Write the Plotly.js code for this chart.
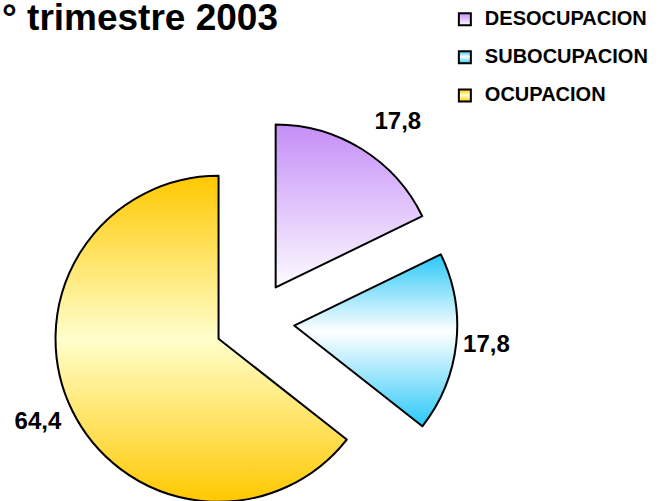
<!DOCTYPE html>
<html>
<head>
<meta charset="utf-8">
<script src="https://cdn.plot.ly/plotly-3.0.1.min.js"></script>
<style>
  html, body { margin: 0; padding: 0; overflow: hidden; background: #fff; }
  #chart { width: 662px; height: 540px; }
</style>
</head>
<body>
<div id="chart"></div>
<script>
// ---- data ----
var titleText = '° trimestre 2003';
var labels = ['DESOCUPACION', 'SUBOCUPACION', 'OCUPACION'];
var values = [17.8, 17.8, 64.4];
var baseColors = ['#dcc0fb', '#b5e9fd', '#ffe47a'];
// vertical gradient stops per slice (offset, colour)
var gradDeso = [[0, '#c58ef8'], [1, '#fdfbff']];
var gradSubo = [[0, '#2ac8f8'], [0.45, '#ffffff'], [1, '#2ac8f8']];
var gradOcup = [[0, '#ffc800'], [0.5, '#ffffcc'], [1, '#ffc800']];
var gradients = [gradDeso, gradSubo, gradOcup];

var FONT = 'Liberation Sans, Arial, Helvetica, sans-serif';

var legendLabels = labels.map(function (l) {
  return '<span style="font-size:20px">' + l + '</span><br>&nbsp;';
});

// label text: value shown at 24px; the blank helper line nudges placement
var valueSpan = '<span style="font-size:24px">%{value}</span>';
var textTemplates = [valueSpan + '<br>&nbsp;', valueSpan, '&nbsp;<br>' + valueSpan];
var textSizes = [18, 24, 16];

var trace = {
  type: 'pie',
  labels: legendLabels,
  values: values,
  sort: false,
  direction: 'clockwise',
  rotation: 0,
  pull: [0.245, 0.245, 0.245],
  marker: { colors: baseColors, line: { color: '#000000', width: 2 } },
  texttemplate: textTemplates,
  textposition: 'outside',
  textfont: { family: FONT, size: textSizes, color: '#000000', weight: 'bold' },
  hoverinfo: 'none',
  domain: { x: [0.0778, 0.691], y: [0.0289, 0.781] }
};

var layout = {
  width: 662,
  height: 540,
  margin: { l: 0, r: 0, t: 0, b: 0 },
  paper_bgcolor: '#ffffff',
  separators: ',.',
  title: {
    text: titleText,
    font: { family: FONT, size: 37, color: '#000000', weight: 'bold' },
    xref: 'container', x: 0.003, xanchor: 'left',
    yref: 'container', y: 1 - 17 / 540, yanchor: 'middle'
  },
  showlegend: true,
  legend: {
    x: 0.672, xanchor: 'left',
    y: 0.9926, yanchor: 'top',
    valign: 'top',
    font: { family: FONT, size: 13.5, color: '#000000', weight: 'bold' },
    bgcolor: 'rgba(0,0,0,0)'
  }
};

function applyGradients(gd) {
  var NS = 'http://www.w3.org/2000/svg';
  var defs = gd.querySelector('.main-svg defs');
  if (!defs) {
    defs = document.createElementNS(NS, 'defs');
    gd.querySelector('.main-svg').appendChild(defs);
  }
  gradients.forEach(function (stops, i) {
    var g = document.createElementNS(NS, 'linearGradient');
    g.setAttribute('id', 'sliceGrad' + i);
    g.setAttribute('x1', '0'); g.setAttribute('y1', '0');
    g.setAttribute('x2', '0'); g.setAttribute('y2', '1');
    stops.forEach(function (s) {
      var st = document.createElementNS(NS, 'stop');
      st.setAttribute('offset', s[0]);
      st.setAttribute('stop-color', s[1]);
      g.appendChild(st);
    });
    defs.appendChild(g);
  });
  gd.querySelectorAll('g.slice path.surface').forEach(function (p, i) {
    p.style.fill = 'url(#sliceGrad' + (i % gradients.length) + ')';
  });
  gd.querySelectorAll('.legend path.legendpie').forEach(function (p, i) {
    p.style.fill = 'url(#sliceGrad' + (i % gradients.length) + ')';
  });
}

var gd = document.getElementById('chart');
Plotly.newPlot(gd, [trace], layout, { displayModeBar: false, staticPlot: true }).then(function () {
  applyGradients(gd);
});
</script>
</body>
</html>
